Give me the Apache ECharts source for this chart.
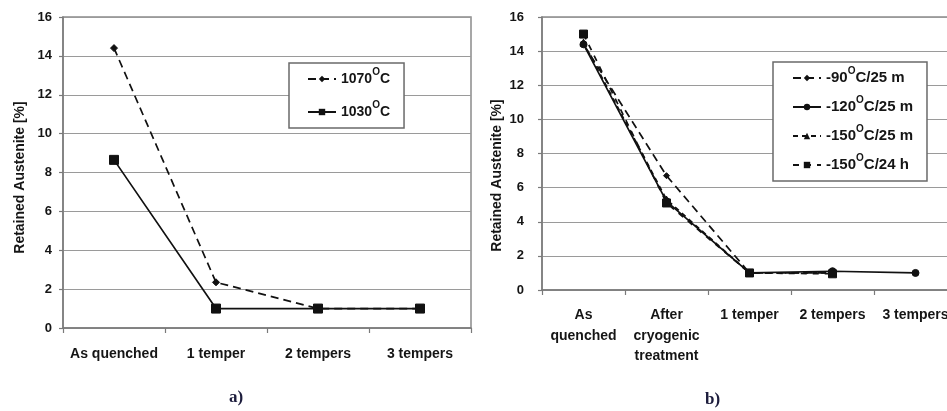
<!DOCTYPE html>
<html><head><meta charset="utf-8">
<script src="https://cdn.jsdelivr.net/npm/echarts@6/dist/echarts.min.js"></script>
<style>html,body{margin:0;padding:0;background:#fff;overflow:hidden}#c{width:960px;height:411px}</style>
</head><body><div id="c"></div>
<script>
// ---- data ----
const catsA = ['As quenched', '1 temper', '2 tempers', '3 tempers'];
const namesA = ['1070°C', '1030°C'];
const a1070 = [14.4, 2.35, 1.0, 1.0];
const a1030 = [8.65, 1.0, 1.0, 1.0];

const catsB = ['As\nquenched', 'After\ncryogenic\ntreatment', '1 temper', '2 tempers', '3 tempers'];
const namesB = ['-90°C/25 m', '-120°C/25 m', '-150°C/25 m', '-150°C/24 h'];
const b90m25 = [14.4, 6.7, 1.0, 1.0, null];
const b120m25 = [14.4, 5.2, 1.0, 1.1, 1.0];
const b150m25 = [14.5, 5.3, 1.0, 1.0, null];
const b150h24 = [15.0, 5.1, 1.0, 0.95, null];

const yMin = 0, yMax = 16, yStep = 2;
const axisTitle = 'Retained Austenite [%]';
const captions = ['a)', 'b)'];

// ---- chart ----
const FONT = 'Liberation Sans';
const TXT = '#151515';
const chart = echarts.init(document.getElementById('c'), null, {renderer: 'canvas'});

function legendFmt(n) { return n.replace('°', '{s|O}'); }
const legendRich = {
  s: {fontSize: 10, fontWeight: 'bold', fontFamily: FONT, color: TXT, verticalAlign: 'top', lineHeight: 12}
};

function yAxis(gridIndex, margin, gap, pad) {
  return {
    type: 'value', gridIndex, min: yMin, max: yMax, interval: yStep,
    name: axisTitle, nameLocation: 'middle', nameGap: gap,
    nameTextStyle: {fontFamily: FONT, fontWeight: 'bold', fontSize: 14, color: TXT, padding: [0, pad, 0, 0]},
    axisLine: {show: true, lineStyle: {color: '#7a7a7a', width: 1.5}},
    axisTick: {show: true, length: 4, lineStyle: {color: '#7a7a7a', width: 1.2}},
    axisLabel: {fontFamily: FONT, fontWeight: 'bold', fontSize: 13, color: TXT, margin: margin},
    splitLine: {show: true, lineStyle: {color: '#9a9a9a', width: 1.2}}
  };
}
function xAxis(gridIndex, data, margin) {
  return {
    type: 'category', gridIndex, data, boundaryGap: true,
    axisLine: {show: true, lineStyle: {color: '#7a7a7a', width: 1.5}},
    axisTick: {show: true, length: 5, lineStyle: {color: '#7a7a7a', width: 1.2}},
    axisLabel: {fontFamily: FONT, fontWeight: 'bold', fontSize: 14, color: TXT, margin: margin, lineHeight: 20.5, interval: 0}
  };
}
function line(name, data, xi, symbol, size, dashed) {
  return {
    type: 'line', name, data, xAxisIndex: xi, yAxisIndex: xi,
    symbol, symbolSize: size, showSymbol: true, connectNulls: false,
    lineStyle: {color: '#111', width: 1.7, type: dashed || 'solid'},
    itemStyle: {color: '#111', borderColor: '#111'},
    emphasis: {disabled: true}, animation: false, z: 3
  };
}

chart.setOption({
  animation: false,
  backgroundColor: '#fff',
  grid: [
    {left: 63, top: 17, right: 489, bottom: 83, show: true, borderColor: '#8a8a8a', borderWidth: 1.5, containLabel: false},
    {left: 542, top: 17, right: 3, bottom: 121, show: true, borderColor: '#8a8a8a', borderWidth: 1.5, containLabel: false}
  ],
  xAxis: [xAxis(0, catsA, 16), xAxis(1, catsB, 15)],
  yAxis: [yAxis(0, 11, 36, 10), yAxis(1, 18, 38, 44)],
  legend: [
    {
      data: namesA, orient: 'vertical', left: 289, top: 63,
      padding: [4, 14, 4, 18], itemGap: 9, itemWidth: 28, itemHeight: 8,
      backgroundColor: '#fff', borderColor: '#6a6a6a', borderWidth: 1.5, borderRadius: 0,
      formatter: legendFmt, selectedMode: false,
      textStyle: {fontFamily: FONT, fontWeight: 'bold', fontSize: 14, color: TXT, lineHeight: 24, rich: legendRich}
    },
    {
      data: namesB, orient: 'vertical', left: 773, top: 62,
      padding: [4, 14, 4, 19], itemGap: 5, itemWidth: 28, itemHeight: 8,
      backgroundColor: '#fff', borderColor: '#6a6a6a', borderWidth: 1.5, borderRadius: 0,
      formatter: legendFmt, selectedMode: false,
      textStyle: {fontFamily: FONT, fontWeight: 'bold', fontSize: 15, color: TXT, lineHeight: 24, rich: legendRich}
    }
  ],
  series: [
    line(namesA[0], a1070, 0, 'diamond', 7, [8, 5]),
    line(namesA[1], a1030, 0, 'rect', 9, 'solid'),
    line(namesB[0], b90m25, 1, 'diamond', 6, [8, 5]),
    line(namesB[1], b120m25, 1, 'circle', 7, 'solid'),
    line(namesB[2], b150m25, 1, 'triangle', 7, [5, 4]),
    line(namesB[3], b150h24, 1, 'rect', 8, [6, 6])
  ],
  graphic: [
    {type: 'text', left: 229, top: 389, silent: true,
     style: {text: captions[0], font: 'bold 17px "Liberation Serif"', fill: '#1c1c3c'}},
    {type: 'text', left: 705, top: 391, silent: true,
     style: {text: captions[1], font: 'bold 17px "Liberation Serif"', fill: '#1c1c3c'}}
  ]
});
</script></body></html>
